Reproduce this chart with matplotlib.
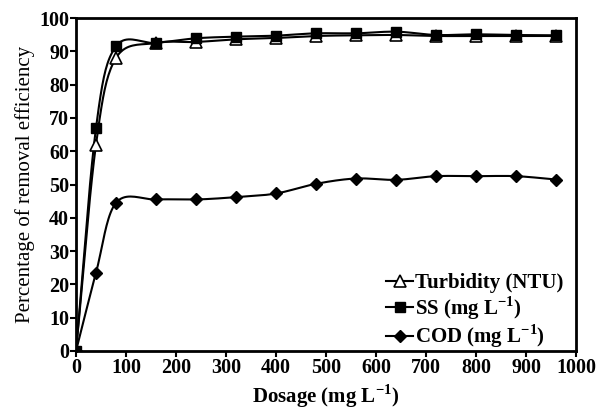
import numpy as np
import matplotlib
matplotlib.use("Agg")
import matplotlib.pyplot as plt

dosage = [0, 40, 80, 160, 240, 320, 400, 480, 560, 640, 720, 800, 880, 960]
turbidity = [0, 62, 88, 92.5, 92.8, 93.6, 94.0, 94.6, 94.8, 94.9, 94.6, 94.6, 94.6, 94.6]
ss = [0, 67, 91.5, 92.5, 93.9, 94.4, 94.7, 95.4, 95.4, 95.9, 94.9, 95.1, 94.9, 94.8]
cod = [0, 23.5, 44.5, 45.5, 45.5, 46.2, 47.3, 50.2, 51.8, 51.4, 52.5, 52.5, 52.5, 51.5]

xticks = [0, 100, 200, 300, 400, 500, 600, 700, 800, 900, 1000]
yticks = [0, 10, 20, 30, 40, 50, 60, 70, 80, 90, 100]


def smooth(x, y, n=20):
    x = np.asarray(x, float)
    y = np.asarray(y, float)
    px = np.concatenate([[2 * x[0] - x[1]], x, [2 * x[-1] - x[-2]]])
    py = np.concatenate([[2 * y[0] - y[1]], y, [2 * y[-1] - y[-2]]])
    xs, ys = [], []
    t = np.linspace(0, 1, n, endpoint=False)
    for i in range(1, len(px) - 2):
        p0, p1, p2, p3 = [np.array([px[j], py[j]]) for j in range(i - 1, i + 3)]
        m1 = (p2 - p0) / 2
        m2 = (p3 - p1) / 2
        h00 = 2 * t**3 - 3 * t**2 + 1
        h10 = t**3 - 2 * t**2 + t
        h01 = -2 * t**3 + 3 * t**2
        h11 = t**3 - t**2
        pts = np.outer(h00, p1) + np.outer(h10, m1) + np.outer(h01, p2) + np.outer(h11, m2)
        xs.extend(pts[:, 0])
        ys.extend(pts[:, 1])
    xs.append(x[-1])
    ys.append(y[-1])
    return np.array(xs), np.array(ys)


plt.rcParams['font.family'] = ['Liberation Serif', 'DejaVu Serif']
plt.rcParams['mathtext.fontset'] = 'custom'
plt.rcParams['mathtext.rm'] = 'Liberation Serif'
plt.rcParams['mathtext.bf'] = 'Liberation Serif:bold'
fig = plt.figure(figsize=(6, 4.12), dpi=100)
ax = fig.add_axes([76 / 600, 1 - 351 / 412, 500 / 600, 333 / 412])

series = [
    (turbidity, dict(marker='^', mfc='white', mec='black', ms=8, mew=1.2), 'Turbidity (NTU)'),
    (ss, dict(marker='s', mfc='black', mec='black', ms=7), r'SS (mg L$^{\mathbf{-1}}$)'),
    (cod, dict(marker='D', mfc='black', mec='black', ms=6), r'COD (mg L$^{\mathbf{-1}}$)'),
]
for y, mk, lab in series:
    sx, sy = smooth(dosage, y)
    ax.plot(sx, sy, color='black', lw=1.5, zorder=2)
    ax.plot(dosage, y, linestyle='none', zorder=3, **mk)
    ax.plot([], [], color='black', lw=1.5, label=lab, **mk)

ax.set_xlim(0, 1000)
ax.set_ylim(0, 100)
ax.set_xticks(xticks)
ax.set_yticks(yticks)
for s in ax.spines.values():
    s.set_linewidth(2)
ax.tick_params(direction='out', length=4, width=1.5, labelsize=14.5, pad=1)
for lbl in ax.get_xticklabels() + ax.get_yticklabels():
    lbl.set_fontweight('bold')
ax.set_xlabel(r'Dosage (mg L$^{\mathbf{-1}}$)', fontsize=15, fontweight='bold', labelpad=3)
ax.set_ylabel('Percentage of removal efficiency', fontsize=15, labelpad=3)
leg = ax.legend(loc='lower right', bbox_to_anchor=(1.0, -0.035), frameon=False, fontsize=15,
                handlelength=1.3, handletextpad=0.1, labelspacing=0.05, borderaxespad=0.2)
for t in leg.get_texts():
    t.set_fontweight('bold')
fig.savefig('out.png', dpi=100)
